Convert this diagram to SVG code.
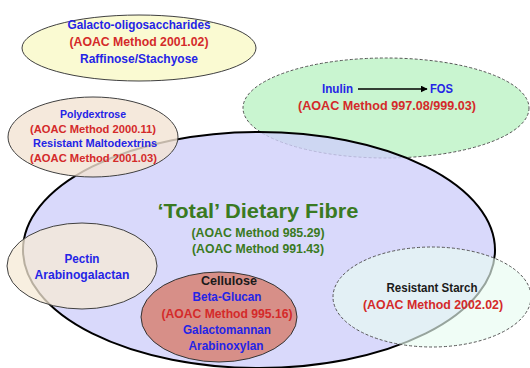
<svg xmlns="http://www.w3.org/2000/svg" width="530" height="368" viewBox="0 0 530 368">
<defs>
<style>
text{font-family:"Liberation Sans",Arial,sans-serif;font-weight:bold;text-anchor:middle}
.b{fill:#2424e6}
.r{fill:#d42a2a}
.g{fill:#3a7a22}
.k{fill:#1a1a1a}
.s13{font-size:13px}
.s12{font-size:12.5px}
.s11{font-size:11.5px}
.solid{stroke:#404040;stroke-width:1}
.dash{stroke:#555;stroke-width:1;stroke-dasharray:3 2}
</style>
<marker id="ah" viewBox="0 0 10 10" refX="9" refY="5" markerWidth="7" markerHeight="7" markerUnits="userSpaceOnUse" orient="auto">
<path d="M0,0 L10,5 L0,10 z" fill="#000"/>
</marker>
</defs>
<rect width="530" height="368" fill="#fff"/>

<g id="galacto">
<ellipse cx="139" cy="48" rx="117" ry="33" fill="#fafad2" class="solid"/>
<text x="139" y="29" class="s13 b" textLength="143" lengthAdjust="spacingAndGlyphs">Galacto-oligosaccharides</text>
<text x="139" y="46" class="s13 r" textLength="139" lengthAdjust="spacingAndGlyphs">(AOAC Method 2001.02)</text>
<text x="139" y="63" class="s13 b" textLength="118" lengthAdjust="spacingAndGlyphs">Raffinose/Stachyose</text>
</g>

<g id="inulin">
<ellipse cx="386" cy="108" rx="143" ry="50" fill="#c9f5d0" class="dash"/>
<text x="337.5" y="93" class="s13 b" textLength="31" lengthAdjust="spacingAndGlyphs">Inulin</text>
<text x="441.5" y="93" class="s13 b" textLength="23" lengthAdjust="spacingAndGlyphs">FOS</text>
<text x="387" y="110" class="s12 r" textLength="178" lengthAdjust="spacingAndGlyphs">(AOAC Method 997.08/999.03)</text>
</g>

<g id="total">
<ellipse cx="259" cy="250" rx="236" ry="118" fill="#cfcffa" fill-opacity="0.8" stroke="#000" stroke-width="2"/>
<text x="258" y="218" class="g" font-size="20" textLength="201" lengthAdjust="spacingAndGlyphs">‘Total’ Dietary Fibre</text>
<text x="258" y="237" class="s12 g" textLength="133" lengthAdjust="spacingAndGlyphs">(AOAC Method 985.29)</text>
<text x="258" y="253" class="s12 g" textLength="132" lengthAdjust="spacingAndGlyphs">(AOAC Method 991.43)</text>
</g>

<g id="polydextrose">
<ellipse cx="93" cy="137" rx="85" ry="40" fill="#f3e3d3" fill-opacity="0.8" class="solid"/>
<text x="93" y="118" class="s11 b" textLength="66" lengthAdjust="spacingAndGlyphs">Polydextrose</text>
<text x="93" y="133" class="s11 r" textLength="126" lengthAdjust="spacingAndGlyphs">(AOAC Method 2000.11)</text>
<text x="95" y="147" class="s11 b" textLength="124" lengthAdjust="spacingAndGlyphs">Resistant Maltodextrins</text>
<text x="93.5" y="162" class="s11 r" textLength="127" lengthAdjust="spacingAndGlyphs">(AOAC Method 2001.03)</text>
</g>

<g id="pectin">
<ellipse cx="82" cy="266" rx="75" ry="43" fill="#f5e9d6" fill-opacity="0.75" class="solid"/>
<text x="82" y="263" class="s13 b" textLength="35" lengthAdjust="spacingAndGlyphs">Pectin</text>
<text x="82" y="279" class="s13 b" textLength="95" lengthAdjust="spacingAndGlyphs">Arabinogalactan</text>
</g>

<g id="cellulose">
<ellipse cx="219" cy="317" rx="78" ry="45" fill="#d78f88" stroke="#333" stroke-width="1"/>
<text x="229" y="285" class="s12 k" textLength="56" lengthAdjust="spacingAndGlyphs">Cellulose</text>
<text x="227" y="301" class="s12 b" textLength="69" lengthAdjust="spacingAndGlyphs">Beta-Glucan</text>
<text x="227" y="318" class="s12 r" textLength="131" lengthAdjust="spacingAndGlyphs">(AOAC Method 995.16)</text>
<text x="227" y="334" class="s12 b" textLength="88" lengthAdjust="spacingAndGlyphs">Galactomannan</text>
<text x="226" y="350" class="s12 b" textLength="75" lengthAdjust="spacingAndGlyphs">Arabinoxylan</text>
</g>

<g id="starch">
<ellipse cx="432" cy="297" rx="99" ry="50" fill="#e8fcf1" fill-opacity="0.65" class="dash"/>
<text x="432" y="292" class="s12 k" textLength="91" lengthAdjust="spacingAndGlyphs">Resistant Starch</text>
<text x="433" y="309" class="s12 r" textLength="140" lengthAdjust="spacingAndGlyphs">(AOAC Method 2002.02)</text>
</g>

<g id="connectors">
<line x1="358" y1="89" x2="427" y2="89" stroke="#000" stroke-width="1.5" marker-end="url(#ah)"/>
</g>
</svg>
